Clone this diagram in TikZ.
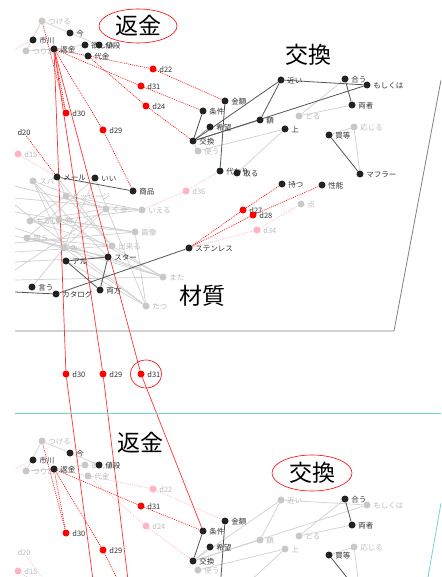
\documentclass[tikz,border=0pt]{standalone}
\usepackage{fontspec}
\setmainfont{Noto Sans CJK JP}
\pgfdeclarelayer{edges}
\pgfdeclarelayer{mid}
\pgfsetlayers{edges,mid,main}
\definecolor{nblack}{HTML}{222222}
\definecolor{ngray}{HTML}{C8C8C8}
\definecolor{npink}{HTML}{FFB3C3}
\definecolor{lk}{HTML}{333333}
\definecolor{lg}{HTML}{BBBBBB}
\definecolor{edark}{HTML}{555555}
\definecolor{emid}{HTML}{999999}
\definecolor{elight}{HTML}{D0D0D0}
\definecolor{ecyan}{HTML}{70D4D4}
\definecolor{rline}{HTML}{FF3333}
\tikzset{
  dot/.style={circle,inner sep=0pt,minimum size=7pt},
  lbk/.style={text=lk,font=\fontsize{7.5}{8}\selectfont,inner sep=0pt,yshift=-1pt},
  lbg/.style={text=lg,font=\fontsize{7.5}{8}\selectfont,inner sep=0pt,yshift=-1pt},
  bn/.style={dot,fill=nblack,label={[lbk]right:#1}},
  gn/.style={dot,fill=ngray,label={[lbg]right:#1}},
  rn/.style={dot,fill=red,label={[lbk]right:#1}},
  pn/.style={dot,fill=npink,label={[lbg]right:#1}},
  txk/.style={text=lk,font=\fontsize{7.5}{8}\selectfont,inner sep=0pt},
  txg/.style={text=lg,font=\fontsize{7.5}{8}\selectfont,inner sep=0pt},
  ttl/.style={text=black,font=\fontsize{23}{23}\selectfont,inner sep=0pt},
  dk/.style={draw=edark,line width=0.8pt},
  md/.style={draw=emid,line width=0.8pt},
  lt/.style={draw=elight,line width=0.7pt},
  rd/.style={draw=red,line width=0.6pt,dash pattern=on 1pt off 1pt},
  pd/.style={draw=npink,line width=0.6pt,dash pattern=on 1pt off 1pt},
  rs/.style={draw=rline,line width=0.7pt},
  plane/.style={draw=gray,line width=0.8pt},
  cplane/.style={draw=ecyan,line width=0.8pt},
  ring/.style={draw=red,line width=0.6pt}
}
\begin{document}
\begin{tikzpicture}[x=1pt,y=-1pt,label distance=2.5pt]
\useasboundingbox (0,0) rectangle (441,577);
\clip (0,0) rectangle (441,577);

% ---------------- panel outlines ----------------
\coordinate (pA) at (15,331);
\coordinate (pB) at (394,331);
\coordinate (pC) at (441,80);
\draw[plane] (pA) -- (pB) -- (pC);
\coordinate (cA) at (15,413);
\coordinate (cB) at (441,413);
\coordinate (cC) at (441,503);
\coordinate (cD) at (428,577);
\draw[cplane] (cA) -- (cB);
\draw[cplane] (cC) -- (cD);

% ---------------- titles ----------------
\node[ttl] (tHen) at (138,26) {返金};
\draw[ring] (tHen.center) ellipse [x radius=39pt, y radius=17pt];
\node[ttl] (tKou) at (308,55) {交換};
\node[ttl] (tZai) at (202,296) {材質};
\node[ttl] (tHenB) at (140,443) {返金};
\node[ttl] (tKouB) at (312,473) {交換};
\draw[ring] (tKouB.center) ellipse [x radius=40pt, y radius=18pt];

% ---------------- top panel nodes ----------------
\node[gn=つける] (tsukeru) at (42,21) {};
\node[bn=今] (ima) at (70,33) {};
\node[bn=市川] (ichikawa) at (33,40) {};
\node[gn=つりあい] (tsuria) at (26,51) {};
\node[bn=返金] (henkin) at (54,49) {};
\node[bn=欲しい] (hoshii) at (85,45) {};
\node[bn=値段] (nedan) at (99,45) {};
\node[bn=代金] (daikin) at (88,56) {};
\node[rn=d22] (d22) at (153,69) {};
\node[rn=d31] (d31) at (141,86) {};
\node[rn=d24] (d24) at (146,106) {};
\node[rn=d30] (d30) at (66,113) {};
\node[rn=d29] (d29) at (103,130) {};
\node[txk] (d20) at (24,133) {d20};
\node[pn=d15] (d15) at (18,154) {};

\node[bn=近い] (chikai) at (281,80) {};
\node[bn=合う] (au) at (345,79) {};
\node[bn=もしくは] (moshi) at (367,85) {};
\node[bn=金額] (kingaku) at (225,101) {};
\node[bn=条件] (jouken) at (203,111) {};
\node[bn=両者] (ryousha) at (352,105) {};
\node[gn=とる] (toru) at (299,116) {};
\node[bn=額] (gaku) at (260,120) {};
\node[bn=希望] (kibou) at (210,127) {};
\node[bn=上] (ue) at (285,129) {};
\node[gn=応じる] (oujiru) at (354,127) {};
\node[bn=交換] (koukan) at (193,141) {};
\node[bn=買等] (kaitou) at (329,135) {};
\node[gn=使う] (tsukau) at (198,151) {};
\node[bn=代わり] (dai) at (220,171) {};
\node[bn=取る] (toru2) at (237,173) {};
\node[bn=マフラー] (mafura) at (360,174) {};
\node[pn=d36] (d36) at (186,191) {};
\node[bn=持つ] (motsu) at (282,184) {};
\node[bn=性能] (seinou) at (322,185) {};
\node[gn=点] (ten) at (301,204) {};
\node[rn=d27] (d27) at (243,210) {};
\node[rn=d28] (d28) at (253,215) {};
\node[pn=d34] (d34) at (257,230) {};
\node[bn=ステンレス] (stain) at (189,248) {};

\node[gn=スパ] (g1) at (33,181) {};
\node[gn=メッセージ] (g2) at (66,196) {};
\node[gn=くる] (g3) at (106,209) {};
\node[gn=いえる] (ieru) at (142,210) {};
\node[gn=ちがい] (g5) at (30,221) {};
\node[gn=物] (g6) at (59,220) {};
\node[gn=画像] (gazou) at (135,232) {};
\node[gn=買う] (g8) at (27,238) {};
\node[gn=色] (g9) at (64,248) {};
\node[gn=出来る] (g10) at (112,246) {};
\node[gn=また] (mata) at (163,277) {};
\node[gn=たつ] (tatsu) at (146,306) {};
\node[bn=メール] (mail) at (57,177) {};
\node[bn=いい] (ii) at (95,178) {};
\node[bn=商品] (shouhin) at (133,191) {};
\node[bn=アル] (aru) at (66,261) {};
\node[bn=スター] (star) at (108,257) {};
\node[bn=言う] (iu) at (32,287) {};
\node[bn=カタログ] (catalog) at (56,294) {};
\node[bn=両方] (ryouhou) at (100,290) {};

% ---------------- middle band ----------------
\node[rn=d30] (m30) at (66,374) {};
\node[rn=d29] (m29) at (103,374) {};
\node[rn=d31] (m31) at (141,374) {};
\draw[ring] (146,374) ellipse [x radius=15.5pt, y radius=14pt];

% ---------------- bottom panel nodes ----------------
\node[gn=つける] (tsukeruB) at (42,441) {};
\node[bn=今] (imaB) at (70,453) {};
\node[bn=市川] (ichikawaB) at (33,460) {};
\node[gn=つりあい] (tsuriaB) at (26,471) {};
\node[bn=返金] (henkinB) at (54,469) {};
\node[gn=欲しい] (hoshiiB) at (85,465) {};
\node[bn=値段] (nedanB) at (99,465) {};
\node[gn=代金] (daikinB) at (88,476) {};
\node[pn=d22] (d22B) at (153,489) {};
\node[rn=d31] (d31B) at (141,506) {};
\node[pn=d24] (d24B) at (146,526) {};
\node[rn=d30] (d30B) at (66,533) {};
\node[rn=d29] (d29B) at (103,550) {};
\node[txg] (d20B) at (24,553) {d20};
\node[pn=d15] (d15B) at (18,571) {};

\node[gn=近い] (chikaiB) at (281,500) {};
\node[bn=合う] (auB) at (345,499) {};
\node[gn=もしくは] (moshiB) at (367,505) {};
\node[bn=金額] (kingakuB) at (225,521) {};
\node[bn=条件] (joukenB) at (203,531) {};
\node[bn=両者] (ryoushaB) at (352,525) {};
\node[gn=とる] (toruB) at (299,536) {};
\node[gn=額] (gakuB) at (260,540) {};
\node[bn=希望] (kibouB) at (210,547) {};
\node[gn=上] (ueB) at (285,549) {};
\node[gn=応じる] (oujiruB) at (354,547) {};
\node[bn=交換] (koukanB) at (193,561) {};
\node[bn=買等] (kaitouB) at (329,555) {};
\node[gn=使う] (tsukauB) at (198,570) {};
\coordinate (daiB) at (220,591);
\coordinate (toru2B) at (237,593);
\coordinate (mafuraB) at (360,594);
\coordinate (shouhinB) at (133,611);
\coordinate (mailB) at (57,597);

% ---------------- free ends ----------------
\coordinate (l0) at (15,292);
\coordinate (l1) at (15,186);
\coordinate (l2) at (15,198);
\coordinate (l3) at (15,212);
\coordinate (l4) at (15,228);
\coordinate (l5) at (15,252);
\coordinate (l6) at (15,262);
\coordinate (l7) at (15,205);
\coordinate (l8) at (15,243);
\coordinate (l9) at (15,280);
\coordinate (l10) at (15,236);
\coordinate (l11) at (15,270);
\coordinate (lich) at (15,49);
\coordinate (lichB) at (15,469);
\coordinate (e30) at (93,580);
\coordinate (e29) at (128,580);

% ---------------- edges ----------------
\begin{pgfonlayer}{edges}
\foreach \a/\b in {g1/g3,g1/g6,g1/g9,g1/star,g2/ieru,g2/g10,g3/ieru,g3/g5,g5/gazou,g5/g10,g6/gazou,g6/mata,g8/g10,g8/mata,g9/tatsu,g9/g3,aru/tatsu,star/mata,g10/mata,gazou/tatsu,mail/g10,ii/g8,ii/g9,ii/tatsu,mail/g2,g2/g5,g6/ieru,g8/star,iu/g9,
  l1/g3,l2/ieru,l3/gazou,l4/mata,l5/g10,l6/star,l7/tatsu,l8/gazou,l9/mata,l10/star,l11/g3,
  tsukau/ue,ue/toru2,au/toru,toru/ryousha,oujiru/mafura,kaitou/oujiru,koukan/tsukau,
  tsukeru/ima,ima/nedan,tsukeru/tsuria,tsuria/henkin,henkin/hoshii}
  {\draw[lt] (\a) -- (\b);}
\foreach \a/\b in {koukan/kibou,koukan/gaku}
  {\draw[md] (\a) -- (\b);}
\foreach \a/\b in {koukan/chikai,chikai/gaku,chikai/moshi,koukan/moshi,au/ryousha,koukan/jouken,kingaku/dai,kaitou/mafura,mail/shouhin,aru/star,aru/ryouhou,star/ryouhou,catalog/stain,l0/catalog}
  {\draw[dk] (\a) -- (\b);}
\foreach \a/\b in {henkin/d22,d22/kingaku,henkin/d31,d31/jouken,daikin/d24,d24/koukan,henkin/d30,tsukeru/d30,henkin/d29,d29/shouhin,d20/mail,d27/motsu,d27/stain,d28/seinou,d28/stain}
  {\draw[rd] (\a) -- (\b);}
\foreach \a/\b in {d15/mail,d36/ieru,d36/dai,d34/ten,d34/stain,ichikawa/lich}
  {\draw[pd] (\a) -- (\b);}
\foreach \a/\b in {koukanB/chikaiB,chikaiB/gakuB,chikaiB/moshiB,koukanB/moshiB,koukanB/gakuB,koukanB/kibouB,auB/toruB,toruB/ryoushaB,tsukauB/ueB,ueB/toru2B,kaitouB/oujiruB,oujiruB/mafuraB,tsukeruB/imaB,imaB/nedanB,tsukeruB/tsuriaB,tsuriaB/henkinB,henkinB/hoshiiB}
  {\draw[lt] (\a) -- (\b);}
\foreach \a/\b in {auB/ryoushaB,joukenB/koukanB,kingakuB/daiB,kaitouB/mafuraB}
  {\draw[dk] (\a) -- (\b);}
\foreach \a/\b in {henkinB/d31B,d31B/joukenB,henkinB/d30B,tsukeruB/d30B,henkinB/d29B,d29B/shouhinB}
  {\draw[rd] (\a) -- (\b);}
\foreach \a/\b in {henkinB/d22B,d22B/kingakuB,daikinB/d24B,d24B/koukanB,d20B/mailB,d15B/mailB,ichikawaB/lichB}
  {\draw[pd] (\a) -- (\b);}
\end{pgfonlayer}

\begin{pgfonlayer}{mid}
\draw[rs] (henkin) -- (m30);
\draw[rs] (henkin) -- (m29);
\draw[rs] (henkin) -- (m31);
\draw[rs] (m30) -- (e30);
\draw[rs] (m29) -- (e29);
\draw[rs] (m31) -- (joukenB);
\end{pgfonlayer}
\end{tikzpicture}
\end{document}
